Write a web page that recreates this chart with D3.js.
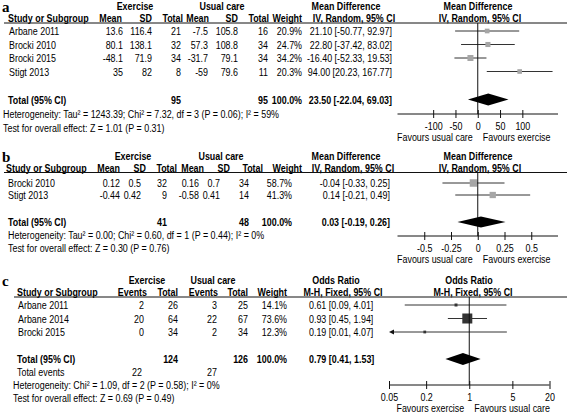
<!DOCTYPE html>
<html><head><meta charset="utf-8">
<script src="https://cdn.jsdelivr.net/npm/d3@7"></script>
<style>
html,body{margin:0;padding:0;background:#fff;}
svg text{font-family:Arial,"Liberation Sans",sans-serif;font-size:11px;fill:#000;}
svg text.b{font-weight:bold;}
</style></head>
<body><svg id="c" width="567" height="415"></svg>
<script>
// ---------- Panel a data ----------
const studiesA = ["Arbane 2011","Brocki 2010","Brocki 2015","Stigt 2013"];
const exMeanA = [13.6, 80.1, -48.1, 35];
const exSdA = [116.4, 138.1, 71.9, 82];
const exTotA = [21, 32, 34, 8];
const ucMeanA = [-7.5, 57.3, -31.7, -59];
const ucSdA = [105.8, 108.8, 79.1, 79.6];
const ucTotA = [16, 34, 34, 11];
const weightA = [20.9, 24.7, 34.2, 20.3];
const mdA = [21.10, 22.80, -16.40, 94.00];
const loA = [-50.77, -37.42, -52.33, 20.23];
const hiA = [92.97, 83.02, 19.53, 167.77];
const totalA = {ex: 95, uc: 95, w: 100.0, md: 23.50, lo: -22.04, hi: 69.03};
const hetA = "Heterogeneity: Tau\u00b2 = 1243.39; Chi\u00b2 = 7.32, df = 3 (P = 0.06); I\u00b2 = 59%";
const testA = "Test for overall effect: Z = 1.01 (P = 0.31)";
const ticksA = [-100, -50, 0, 50, 100];
const domainA = [-180, 180];

// ---------- Panel b data ----------
const studiesB = ["Brocki 2010","Stigt 2013"];
const exMeanB = [0.12, -0.44];
const exSdB = [0.5, 0.42];
const exTotB = [32, 9];
const ucMeanB = [0.16, -0.58];
const ucSdB = [0.7, 0.41];
const ucTotB = [34, 14];
const weightB = [58.7, 41.3];
const mdB = [-0.04, 0.14];
const loB = [-0.33, -0.21];
const hiB = [0.25, 0.49];
const totalB = {ex: 41, uc: 48, w: 100.0, md: 0.03, lo: -0.19, hi: 0.26};
const hetB = "Heterogeneity: Tau\u00b2 = 0.00; Chi\u00b2 = 0.60, df = 1 (P = 0.44); I\u00b2 = 0%";
const testB = "Test for overall effect: Z = 0.30 (P = 0.76)";
const ticksB = [-0.5, -0.25, 0, 0.25, 0.5];
const domainB = [-0.75, 0.75];

// ---------- Panel c data ----------
const studiesC = ["Arbane 2011","Arbane 2014","Brocki 2015"];
const exEvC = [2, 20, 0];
const exTotC = [26, 64, 34];
const ucEvC = [3, 22, 2];
const ucTotC = [25, 67, 34];
const weightC = [14.1, 73.6, 12.3];
const orC = [0.61, 0.93, 0.19];
const loC = [0.09, 0.45, 0.01];
const hiC = [4.01, 1.94, 4.07];
const totalC = {ex: 124, uc: 126, w: 100.0, or: 0.79, lo: 0.41, hi: 1.53, exEv: 22, ucEv: 27};
const hetC = "Heterogeneity: Chi\u00b2 = 1.09, df = 2 (P = 0.58); I\u00b2 = 0%";
const testC = "Test for overall effect: Z = 0.69 (P = 0.49)";
const ticksC = [0.05, 0.2, 1, 5, 20];
const tickLabelsC = ["0.05", "0.2", "1", "5", "20"];
const domainC = [0.05, 20];

// ---------- drawing ----------
const SX = 0.81; // condensed type, like the reference
const svg = d3.select("#c");
svg.append("rect").attr("width",567).attr("height",415).attr("fill","#fff");

function txt(g, x, y, s, anchor, bold){
  return g.append("text").attr("transform",`translate(${x},${y+4}) scale(${SX},1)`)
    .attr("text-anchor",anchor||"start").attr("class", bold ? "b" : null).text(s);
}
function fmtCI(v, lo, hi, d){
  return v.toFixed(d) + " [" + lo.toFixed(d) + ", " + hi.toFixed(d) + "]";
}
function letter(x, y, s){
  svg.append("text").attr("x",x).attr("y",y).text(s)
    .style("font-family","'Liberation Serif','Times New Roman',serif")
    .style("font-size","15px").style("font-weight","bold");
}
function drawAxis(x, y, ticks, labels, topY, zeroVal, lblL, lblR){
  const ax = d3.axisBottom(x).tickValues(ticks).tickSizeOuter(0).tickSize(4).tickPadding(4);
  if (labels) ax.tickFormat((d,i)=>labels[i]);
  else ax.tickFormat(d=>String(d));
  const g = svg.append("g").attr("transform",`translate(0,${y})`).call(ax);
  g.select(".domain").attr("stroke","#111").attr("d",`M${x.range()[0]},0H${x.range()[1]}`);
  g.selectAll(".tick line").attr("y1",-4).attr("y2",4).attr("stroke","#111");
  g.selectAll(".tick text").style("font-family","Arial,'Liberation Sans',sans-serif").style("font-size","11px")
    .attr("fill","#000").attr("transform",`scale(${SX},1)`);
  svg.append("line").attr("x1",x(zeroVal)).attr("x2",x(zeroVal)).attr("y1",topY).attr("y2",y)
    .attr("stroke","#111").attr("stroke-width",1);
  txt(svg, x(zeroVal)-5, y+23, lblL, "end");
  txt(svg, x(zeroVal)+5, y+23, lblR, "start");
}
function diamond(x, yc, lo, mid, hi, h){
  svg.append("path").attr("d",`M${x(lo)},${yc}L${x(mid)},${yc-h}L${x(hi)},${yc}L${x(mid)},${yc+h}Z`).attr("fill","#000");
}

// ===== Panel a =====
(function(){
  const g = svg.append("g");
  letter(2, 12, "a");
  const y0 = 6, y1 = 18, line = 23, rows = [31, 44.5, 58, 71.5], yT = 99.5;
  txt(g,135,y0,"Exercise","middle",true);
  txt(g,222,y0,"Usual care","middle",true);
  txt(g,346,y0,"Mean Difference","middle",true);
  txt(g,478,y0,"Mean Difference","middle",true);
  txt(g,8,y1,"Study or Subgroup","start",true);
  [["Mean",122],["SD",152],["Total",183],["Mean",209],["SD",238],["Total",269],["Weight",302]].forEach(d=>txt(g,d[1],y1,d[0],"end",true));
  txt(g,354,y1,"IV, Random, 95% CI","middle",true);
  txt(g,480,y1,"IV, Random, 95% CI","middle",true);
  g.append("line").attr("x1",4).attr("x2",567).attr("y1",line).attr("y2",line).attr("stroke","#111");
  const x = d3.scaleLinear().domain(domainA).range([397.5, 558]);
  const sz = d3.scaleSqrt().domain([0, 34.2]).range([0, 6]);
  studiesA.forEach((s,i)=>{
    const y = rows[i];
    txt(g,9,y,s);
    txt(g,123,y,String(exMeanA[i]),"end");
    txt(g,152,y,String(exSdA[i]),"end");
    txt(g,181,y,String(exTotA[i]),"end");
    txt(g,208,y,String(ucMeanA[i]),"end");
    txt(g,238,y,String(ucSdA[i]),"end");
    txt(g,268,y,String(ucTotA[i]),"end");
    txt(g,302,y,weightA[i].toFixed(1)+"%","end");
    txt(g,392,y,fmtCI(mdA[i],loA[i],hiA[i],2),"end");
    svg.append("line").attr("x1",x(Math.max(loA[i],domainA[0]))).attr("x2",x(Math.min(hiA[i],domainA[1])))
      .attr("y1",y).attr("y2",y).attr("stroke","#333");
    const s2 = sz(weightA[i]);
    svg.append("rect").attr("x",x(mdA[i])-s2/2).attr("y",y-s2/2).attr("width",s2).attr("height",s2).attr("fill","#a6a6a6");
  });
  txt(g,8,yT,"Total (95% CI)","start",true);
  txt(g,181,yT,String(totalA.ex),"end",true);
  txt(g,268,yT,String(totalA.uc),"end",true);
  txt(g,302,yT,totalA.w.toFixed(1)+"%","end",true);
  txt(g,392,yT,fmtCI(totalA.md,totalA.lo,totalA.hi,2),"end",true);
  txt(g,3,114,hetA);
  txt(g,3,128,testA);
  drawAxis(x,114,ticksA,null,line,0,"Favours usual care","Favours exercise");
  diamond(x,yT,totalA.lo,totalA.md,totalA.hi,6);
})();

// ===== Panel b =====
(function(){
  const g = svg.append("g");
  letter(2, 162, "b");
  const y0 = 156, y1 = 168, line = 172.5, rows = [183, 195], yT = 222;
  txt(g,133,y0,"Exercise","middle",true);
  txt(g,221,y0,"Usual care","middle",true);
  txt(g,346,y0,"Mean Difference","middle",true);
  txt(g,478,y0,"Mean Difference","middle",true);
  txt(g,6,y1,"Study or Subgroup","start",true);
  [["Mean",120],["SD",146],["Total",177],["Mean",204],["SD",230],["Total",263],["Weight",302]].forEach(d=>txt(g,d[1],y1,d[0],"end",true));
  txt(g,353,y1,"IV, Random, 95% CI","middle",true);
  txt(g,480,y1,"IV, Random, 95% CI","middle",true);
  g.append("line").attr("x1",4).attr("x2",567).attr("y1",line).attr("y2",line).attr("stroke","#111");
  const x = d3.scaleLinear().domain(domainB).range([397.5, 558]);
  const sz = d3.scaleSqrt().domain([0, 58.7]).range([0, 7.5]);
  studiesB.forEach((s,i)=>{
    const y = rows[i];
    txt(g,8,y,s);
    txt(g,120,y,String(exMeanB[i]),"end");
    txt(g,141,y,String(exSdB[i]),"end");
    txt(g,167,y,String(exTotB[i]),"end");
    txt(g,199,y,String(ucMeanB[i]),"end");
    txt(g,220,y,String(ucSdB[i]),"end");
    txt(g,249,y,String(ucTotB[i]),"end");
    txt(g,292,y,weightB[i].toFixed(1)+"%","end");
    txt(g,390,y,fmtCI(mdB[i],loB[i],hiB[i],2),"end");
    svg.append("line").attr("x1",x(loB[i])).attr("x2",x(hiB[i])).attr("y1",y).attr("y2",y).attr("stroke","#333");
    const s2 = sz(weightB[i]);
    svg.append("rect").attr("x",x(mdB[i])-s2/2).attr("y",y-s2/2).attr("width",s2).attr("height",s2).attr("fill","#a6a6a6");
  });
  txt(g,8,yT,"Total (95% CI)","start",true);
  txt(g,167,yT,String(totalB.ex),"end",true);
  txt(g,249,yT,String(totalB.uc),"end",true);
  txt(g,292,yT,totalB.w.toFixed(1)+"%","end",true);
  txt(g,390,yT,fmtCI(totalB.md,totalB.lo,totalB.hi,2),"end",true);
  txt(g,8,235,hetB);
  txt(g,8,248,testB);
  drawAxis(x,236,ticksB,null,line,0,"Favours usual care","Favours exercise");
  diamond(x,yT,totalB.lo,totalB.md,totalB.hi,5.5);
})();

// ===== Panel c =====
(function(){
  const g = svg.append("g");
  letter(2, 286, "c");
  const y0 = 280, y1 = 292, line = 297, rows = [305, 318.5, 332], yT = 359;
  txt(g,147,y0,"Exercise","middle",true);
  txt(g,213,y0,"Usual care","middle",true);
  txt(g,336,y0,"Odds Ratio","middle",true);
  txt(g,469,y0,"Odds Ratio","middle",true);
  txt(g,17,y1,"Study or Subgroup","start",true);
  [["Events",147],["Total",178],["Events",218],["Total",248],["Weight",287]].forEach(d=>txt(g,d[1],y1,d[0],"end",true));
  txt(g,343,y1,"M-H, Fixed, 95% CI","middle",true);
  txt(g,473,y1,"M-H, Fixed, 95% CI","middle",true);
  g.append("line").attr("x1",14).attr("x2",567).attr("y1",line).attr("y2",line).attr("stroke","#111");
  const x = d3.scaleLog().domain(domainC).range([389, 549.5]);
  const sz = d3.scaleLinear().domain([0, 73.6]).range([1.3, 10]);
  studiesC.forEach((s,i)=>{
    const y = rows[i];
    txt(g,18,y,s);
    txt(g,144,y,String(exEvC[i]),"end");
    txt(g,178,y,String(exTotC[i]),"end");
    txt(g,217,y,String(ucEvC[i]),"end");
    txt(g,248,y,String(ucTotC[i]),"end");
    txt(g,287,y,weightC[i].toFixed(1)+"%","end");
    txt(g,309,y,fmtCI(orC[i],loC[i],hiC[i],2),"start");
    const clipped = loC[i] < domainC[0];
    const xl = x(Math.max(loC[i],domainC[0]));
    svg.append("line").attr("x1",clipped ? xl+3 : xl).attr("x2",x(hiC[i])).attr("y1",y).attr("y2",y).attr("stroke","#333");
    if (clipped){
      svg.append("path").attr("d",`M${xl},${y}L${xl+5},${y-2.5}L${xl+5},${y+2.5}Z`).attr("fill","#111");
    }
    const s2 = sz(weightC[i]);
    svg.append("rect").attr("x",x(orC[i])-s2/2).attr("y",y-s2/2).attr("width",s2).attr("height",s2).attr("fill","#333");
  });
  txt(g,17,yT,"Total (95% CI)","start",true);
  txt(g,178,yT,String(totalC.ex),"end",true);
  txt(g,248,yT,String(totalC.uc),"end",true);
  txt(g,287,yT,totalC.w.toFixed(1)+"%","end",true);
  txt(g,309,yT,fmtCI(totalC.or,totalC.lo,totalC.hi,2),"start",true);
  txt(g,17,372,"Total events");
  txt(g,142,372,String(totalC.exEv),"end");
  txt(g,217,372,String(totalC.ucEv),"end");
  txt(g,13,385,hetC);
  txt(g,13,398,testC);
  drawAxis(x,385,ticksC,tickLabelsC,line,1,"Favours exercise","Favours usual care");
  diamond(x,yT,totalC.lo,totalC.or,totalC.hi,6);
})();
</script></body></html>
